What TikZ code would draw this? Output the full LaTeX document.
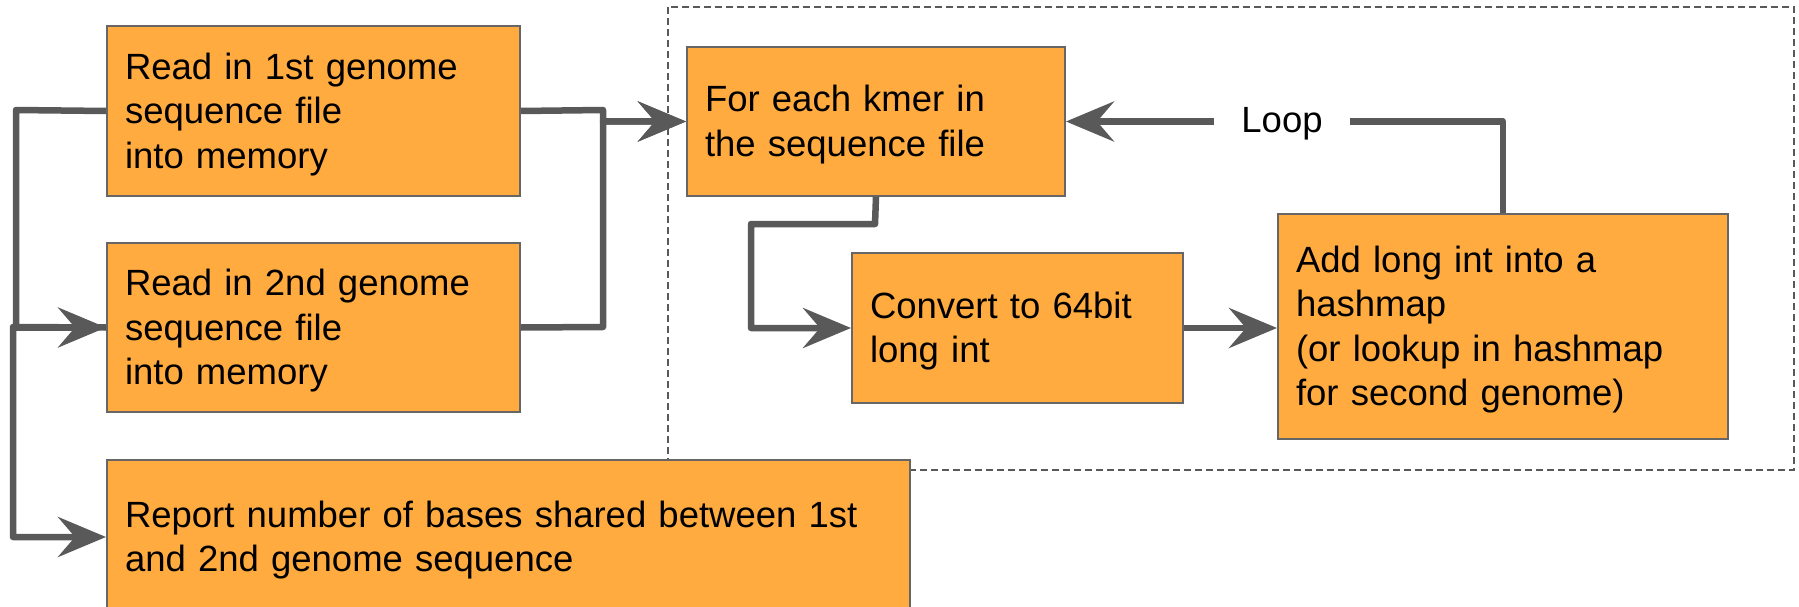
\documentclass[tikz,border=0pt]{standalone}
\usepackage{fontspec}
\setmainfont{Liberation Sans}
\usetikzlibrary{arrows.meta}
\definecolor{boxfill}{HTML}{FFAB40}
\definecolor{boxline}{HTML}{666666}
\definecolor{wire}{HTML}{595959}
\tikzset{
  stepbox/.style={draw=boxline, line width=2pt, fill=boxfill, rectangle,
    inner xsep=18pt, inner ysep=0pt, align=left, anchor=north west,
    font=\fontsize{36.5}{44.5}\selectfont,
    execute at begin node={\rule{0pt}{33pt}}},
  wireline/.style={draw=wire, line width=6.5pt, line join=round},
  flow/.style={wireline, -{Stealth[length=48pt, width=40pt, inset=17pt]}},
  framebox/.style={draw=wire, line width=1.5pt, dash pattern=on 7pt off 4pt},
  plainlabel/.style={inner xsep=27pt, inner ysep=0pt,
    font=\fontsize{36.5}{44.5}\selectfont}
}
\begin{document}
\begin{tikzpicture}[x=1pt, y=-1pt]
\clip (0,0) rectangle (1799,607);
\fill[white] (0,0) rectangle (1799,607);

% group frame around the per-kmer loop
\draw[framebox] (668,7) rectangle (1794,470);

% process boxes
\node[stepbox, text width=377pt, minimum height=170pt] (B1) at (106,25)
  {Read in 1st genome\\sequence file\\into memory};
\node[stepbox, text width=377pt, minimum height=169pt] (B2) at (106,242)
  {Read in 2nd genome\\sequence file\\into memory};
\node[stepbox, text width=767pt, minimum height=154pt] (R) at (106,459)
  {Report number of bases shared between 1st\\and 2nd genome sequence};
\node[stepbox, text width=342pt, minimum height=149pt] (K) at (686,46)
  {For each kmer in\\the sequence file};
\node[stepbox, text width=295pt, minimum height=150pt] (C) at (851,252)
  {Convert to 64bit\\long int};
\node[stepbox, text width=414pt, minimum height=225pt] (A) at (1277,213)
  {Add long int into a\\hashmap\\(or lookup in hashmap\\for second genome)};

\node[plainlabel] (loop) at (1282,124) {Loop};

% left-hand connectors
\draw[flow] (B1.west) -- (16,110) |- (B2.west);
\draw[flow] (B2.west) -- (13,327) |- (R.west);

% both genomes feed the kmer loop
\draw[flow] (B1.east) -- (603,110) |- (K.west);
\draw[flow] (B2.east) -- (603,327) |- (K.west);

% inside the loop
\draw[flow] (K.south) -- (875,224) -- (751,224) |- (C.west);
\draw[flow] (C.east) -- (C.east -| A.west);
\draw[wireline] (A.north) |- (K.east -| loop.east);
\draw[flow] (K.east -| loop.west) -- (K.east);
\end{tikzpicture}
\end{document}
